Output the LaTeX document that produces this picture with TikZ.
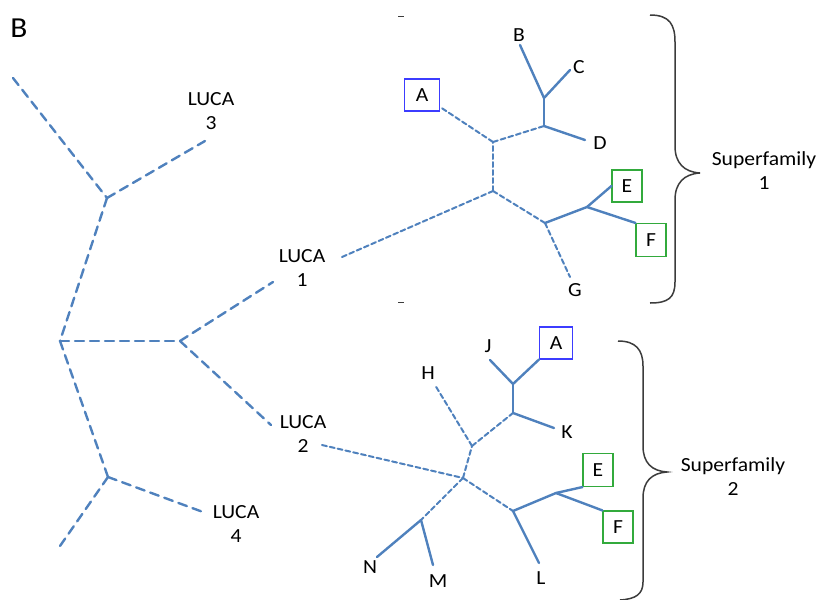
\documentclass[tikz,border=0pt]{standalone}
\usepackage{fontspec}
\setmainfont{Carlito}[FakeStretch=1.08]
\begin{document}
\begin{tikzpicture}[x=1pt,y=-1pt,
  branch/.style={draw=treeblue,line width=2.4pt,line cap=round},
  longdash/.style={branch,dash pattern=on 9pt off 6pt},
  shortdash/.style={branch,line width=2pt,dash pattern=on 5pt off 3pt},
  solidbr/.style={branch,line width=2.4pt},
  lbl/.style={font=\fontsize{20}{24}\selectfont,inner sep=0pt,align=center},
  taxonbox/.style={lbl,draw,line width=1.1pt,minimum width=32pt,minimum height=32pt},
  brace/.style={draw=bracegray,line width=1.5pt}]
\definecolor{treeblue}{RGB}{79,129,189}
\definecolor{boxblue}{RGB}{60,60,255}
\definecolor{boxgreen}{RGB}{50,170,60}
\definecolor{bracegray}{RGB}{60,60,60}
\useasboundingbox (0,0) rectangle (820,600);

% panel letter
\node[font=\fontsize{29}{30}\selectfont,inner sep=0pt] (panel) at (19,28) {B};

% ---------- left tree joining the LUCAs ----------
\coordinate (n1) at (107,198);
\coordinate (n2) at (60,341);
\coordinate (n3) at (180,341);
\coordinate (n4) at (108,477);
\coordinate (topend) at (13,78);
\coordinate (botend) at (60,546);
\coordinate (l3end) at (205,141);
\coordinate (l1end) at (273,282);
\coordinate (l2end) at (271,425);
\coordinate (l4end) at (203,512);

\draw[longdash] (topend) -- (n1);
\draw[longdash] (n1) -- (l3end);
\draw[longdash] (n1) -- (n2);
\draw[longdash] (n2) -- (n3);
\draw[longdash] (n3) -- (l1end);
\draw[longdash] (n3) -- (l2end);
\draw[longdash] (n2) -- (n4);
\draw[longdash] (n4) -- (l4end);
\draw[longdash] (n4) -- (botend);

\node[lbl] (luca3) at (211,111) {LUCA\\3};
\node[lbl] (luca1) at (302,268) {LUCA\\1};
\node[lbl] (luca2) at (303,434) {LUCA\\2};
\node[lbl] (luca4) at (236,524) {LUCA\\4};

% ---------- superfamily 1 ----------
\coordinate (s1) at (342,257);
\coordinate (p1) at (493,191);
\coordinate (p2) at (493,142);
\coordinate (p3) at (544,126);
\coordinate (p4) at (544,98);
\coordinate (p5) at (545,223);
\coordinate (p6) at (587,207);
\coordinate (bend) at (520,45);
\coordinate (cend) at (570,70);
\coordinate (dend) at (585,140);
\coordinate (gend) at (570,277);

\node[taxonbox,draw=boxblue,minimum width=35pt] (a1) at (422,95) {A};
\node[taxonbox,draw=boxgreen,minimum width=30pt] (e1) at (627,186) {E};
\node[taxonbox,draw=boxgreen,minimum width=30pt,minimum height=33pt] (f1) at (651,240) {F};

\draw[shortdash] (s1) -- (p1);
\draw[shortdash] (p1) -- (p2);
\draw[shortdash] (p2) -- (a1);
\draw[shortdash] (p2) -- (p3);
\draw[solidbr] (p3) -- (p4);
\draw[solidbr] (p4) -- (bend);
\draw[solidbr] (p4) -- (cend);
\draw[solidbr] (p3) -- (dend);
\draw[shortdash] (p1) -- (p5);
\draw[solidbr] (p5) -- (p6);
\draw[solidbr] (p6) -- (e1.west);
\draw[solidbr] (p6) -- (f1.north west);
\draw[shortdash] (p5) -- (gend);

\node[lbl] (tb) at (519,35) {B};
\node[lbl] (tc) at (579,67) {C};
\node[lbl] (td) at (600,143) {D};
\node[lbl] (tg) at (575,290) {G};

% ---------- superfamily 2 ----------
\coordinate (s2) at (322,445);
\coordinate (q1) at (463,478);
\coordinate (q2) at (472,446);
\coordinate (q3) at (513,413);
\coordinate (q4) at (513,384);
\coordinate (q5) at (513,511);
\coordinate (q6) at (556,493);
\coordinate (q7) at (421,520);
\coordinate (hend) at (435,385);
\coordinate (jend) at (490,360);
\coordinate (kend) at (554,428);
\coordinate (lend) at (539,563);
\coordinate (nend) at (377,557);
\coordinate (mend) at (433,565);

\node[taxonbox,draw=boxblue,minimum width=33pt] (a2) at (556,343) {A};
\node[taxonbox,draw=boxgreen,minimum width=30pt,minimum height=33pt] (e2) at (598,470) {E};
\node[taxonbox,draw=boxgreen,minimum width=30pt] (f2) at (618,527) {F};

\draw[shortdash] (s2) -- (q1);
\draw[shortdash] (q1) -- (q2);
\draw[shortdash] (q2) -- (hend);
\draw[shortdash] (q2) -- (q3);
\draw[solidbr] (q3) -- (q4);
\draw[solidbr] (q4) -- (jend);
\draw[solidbr] (q4) -- (a2.south west);
\draw[solidbr] (q3) -- (kend);
\draw[shortdash] (q1) -- (q5);
\draw[solidbr] (q5) -- (q6);
\draw[solidbr] (q6) -- (e2.south west);
\draw[solidbr] (q6) -- (f2.north west);
\draw[solidbr] (q5) -- (lend);
\draw[shortdash] (q1) -- (q7);
\draw[solidbr] (q7) -- (nend);
\draw[solidbr] (q7) -- (mend);

\node[lbl] (th) at (428,373) {H};
\node[lbl] (tj) at (488,346) {J};
\node[lbl] (tk) at (567,432) {K};
\node[lbl] (tl) at (541,578) {L};
\node[lbl] (tn) at (370,567) {N};
\node[lbl] (tm) at (438,581) {M};

% ---------- braces ----------
\draw[brace] (650,15) .. controls (670,15) and (675,25) .. (675,42)
  -- (675,146) .. controls (675,163) and (684,172) .. (700,173)
  .. controls (684,174) and (675,183) .. (675,200)
  -- (675,282) .. controls (675,298) and (668,303) .. (650,303);
\draw[bracegray,line width=1pt] (398,16) -- (404,16);
\draw[bracegray,line width=1pt] (398,302) -- (404,302);
\node[lbl] (sf1) at (764,171) {Superfamily\\1};

\draw[brace] (618,341) .. controls (636,341) and (643,350) .. (643,366)
  -- (643,446) .. controls (643,463) and (652,471) .. (667,472)
  .. controls (652,473) and (643,481) .. (643,498)
  -- (643,582) .. controls (643,594) and (636,599) .. (620,600);
\node[lbl] (sf2) at (733,477) {Superfamily\\2};
\end{tikzpicture}
\end{document}
